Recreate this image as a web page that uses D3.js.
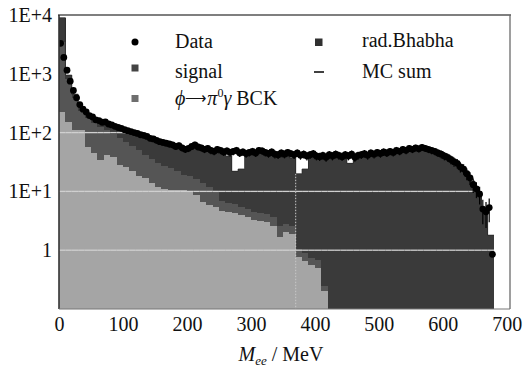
<!DOCTYPE html>
<html><head><meta charset="utf-8">
<script src="https://cdn.jsdelivr.net/npm/d3@7"></script>
<style>
body{margin:0;background:#fff}
svg{display:block}
text{font-family:"Liberation Serif","Times New Roman",Times,serif;fill:#111}
</style>
</head><body>
<svg id="c" width="528" height="370"></svg>
<script>
// ---- data ----
const histBinWidth = 10;   // MeV, MC histograms start at 0
const dataBinWidth = 5;    // MeV, data points start at 0

const bckValues = [220,150,110,110,56,45,34,41,38,28,
  26,22,18,17,14,12,11,10.7,10.5,10.5,
  10,8.7,6.6,5.8,5.5,4.7,4.5,4.3,3.9,3.7,
  3.2,3.1,3.0,2.6,1.7,2.0,1.9,0.76,0.65,0.55,
  0.5,0.2,0,0,0,0,0,0,0,0,
  0,0,0,0,0,0,0,0,0,0,
  0,0,0,0,0,0,0,0];

const signalValues = [3280,670,280,125,124,100,91,69,57,54,
  44,38,32,25,22,18,16,14.3,11.5,8.5,
  8,7.3,7.4,6.2,4.5,2.3,1.8,1.7,1.5,1.3,
  1.3,1.2,1.1,1.0,0.9,0.8,0.7,0.29,0.25,0.2,
  0.18,0.05,0,0,0,0,0,0,0,0,
  0,0,0,0,0,0,0,0,0,0,
  0,0,0,0,0,0,0,0];

const bhabhaValues = [5500,130,60,35,25,25,25,30,33,34,
  35,38,40,42,40,40,37,35,34,31,
  34,39,36,36,35,37,33.7,16,18.6,37,
  39.5,40.7,37.9,37.4,35.4,37.2,34.4,18.95,23.1,38.25,
  34.32,36.75,36,38,36,30,38,40,40,42,
  43,44,46,48,50,52,53,51,48,44,
  40,35,28,22,15,10,5,1.8];

const dataValues = [3300,1900,1150,750,520,390,300,250,225,195,
  185,165,160,150,152,140,135,128,122,118,
  112,108,104,100,97,92,90,86,80,78,
  74,70,68,66,64,62,58,60,55,52,
  54,58,62,57,55,52,54,50,48,52,
  50,47,49,46,48,50,45,47,44,46,
  48,45,50,49,46,44,47,43,42,45,
  43,46,44,42,45,41,43,40,42,44,
  40,39,41,38,42,40,43,41,39,42,
  40,43,38,41,42,44,41,45,43,46,
  44,47,45,48,46,50,48,52,50,54,
  52,55,53,56,54,52,50,48,45,43,
  40,38,35,32,30,26,24,20,17,13,
  11,9,5,4.5,5.3,0.85];

const xTickValues = [0,100,200,300,400,500,600,700];
const yTickValues = [1,10,100,1000,10000];
const yTickLabels = ["1","1E+1","1E+2","1E+3","1E+4"];
const gridValues = [1,10,100];
const markerEnergy = 370; // MeV, dotted vertical line
const seriesKeys = ["bck","signal","bhabha"];
const seriesColors = {bck:"#a5a5a5", signal:"#555555", bhabha:"#3a3a3a"};
const FONT = '"Liberation Serif","Times New Roman",Times,serif';

// ---- scales ----
const svg = d3.select("#c");
const x = d3.scaleLinear().domain([0,705]).range([59,510]);
const y = d3.scaleLog().domain([0.1,10000]).range([309,15]);
const yc = v => y(Math.max(v, 0.1));

svg.append("defs").append("clipPath").attr("id","clip")
  .append("rect").attr("x",59).attr("y",15).attr("width",451).attr("height",294);

const rows = bckValues.map((v,i)=>({x0:i*histBinWidth, bck:v, signal:signalValues[i], bhabha:bhabhaValues[i]}));
const totals = rows.map(r=>r.bck+r.signal+r.bhabha);
const stacked = d3.stack().keys(seriesKeys)(rows);

const plot = svg.append("g").attr("clip-path","url(#clip)");

stacked.forEach(layer=>{
  plot.append("g").attr("fill",seriesColors[layer.key]).attr("shape-rendering","crispEdges")
    .selectAll("rect").data(layer.filter(d=>d[1]>d[0] && d[1]>0.1)).join("rect")
    .attr("x",d=>x(d.data.x0))
    .attr("width",d=>x(d.data.x0+histBinWidth)-x(d.data.x0)+0.3)
    .attr("y",d=>yc(d[1]))
    .attr("height",d=>yc(d[0])-yc(d[1]));
});

// grid lines inside the filled area
gridValues.forEach(g=>{
  plot.append("g").attr("stroke","#d0d0d0").attr("stroke-width",1.3)
    .selectAll("line").data(rows.filter((r,i)=>totals[i]>=g)).join("line")
    .attr("x1",d=>x(d.x0)).attr("x2",d=>x(d.x0+histBinWidth))
    .attr("y1",y(g)).attr("y2",y(g));
});

// dotted line
const mi = Math.floor(markerEnergy/histBinWidth);
plot.append("line").attr("x1",x(markerEnergy)).attr("x2",x(markerEnergy))
  .attr("y1",yc(totals[mi])).attr("y2",309)
  .attr("stroke","#c8c8c8").attr("stroke-width",1).attr("stroke-dasharray","1.5,1.5");

// MC sum step line
const stepPts = rows.map((r,i)=>[r.x0,totals[i]]);
stepPts.push([rows.length*histBinWidth, totals[totals.length-1]]);
plot.append("path").datum(stepPts)
  .attr("d",d3.line().x(d=>x(d[0])).y(d=>yc(d[1])).curve(d3.curveStepAfter))
  .attr("fill","none").attr("stroke","#2a2a2a").attr("stroke-width",0.8);

// data points
const pts = dataValues.map((v,i)=>({e:(i+0.5)*dataBinWidth, v:v}));
plot.append("g").attr("stroke","#000").attr("stroke-width",1.2)
  .selectAll("line").data(pts.filter(d=>d.v-Math.sqrt(d.v)>0)).join("line")
  .attr("x1",d=>x(d.e)).attr("x2",d=>x(d.e))
  .attr("y1",d=>yc(d.v+Math.sqrt(d.v))).attr("y2",d=>yc(d.v-Math.sqrt(d.v)));
plot.append("g").attr("fill","#000")
  .selectAll("circle").data(pts).join("circle")
  .attr("cx",d=>x(d.e)).attr("cy",d=>yc(d.v)).attr("r",3.4);

// frame
svg.append("line").attr("x1",58).attr("x2",511).attr("y1",15).attr("y2",15).attr("stroke","#555").attr("stroke-width",1.6);
svg.append("line").attr("x1",59).attr("x2",59).attr("y1",15).attr("y2",309).attr("stroke","#333").attr("stroke-width",1.6);
svg.append("line").attr("x1",510).attr("x2",510).attr("y1",15).attr("y2",309).attr("stroke","#6a6a6a").attr("stroke-width",1.3);
svg.append("line").attr("x1",59).attr("x2",510).attr("y1",309).attr("y2",309).attr("stroke","#777").attr("stroke-width",1);

// axes
const xAxis = svg.append("g").attr("transform","translate(0,309)")
  .call(d3.axisBottom(x).tickValues(xTickValues).tickSize(0).tickPadding(8).tickFormat(d3.format("d")));
xAxis.attr("font-family",FONT);
xAxis.select(".domain").remove();
xAxis.selectAll("text").style("font-size","20px").style("font-family",FONT).attr("fill","#111");

const yAxis = svg.append("g").attr("transform","translate(59,0)")
  .call(d3.axisLeft(y).tickValues(yTickValues).tickSize(0).tickPadding(7)
    .tickFormat((d,i)=>yTickLabels[i]));
yAxis.attr("font-family",FONT);
yAxis.select(".domain").remove();
yAxis.selectAll("text").style("font-size","20px").style("font-family",FONT).attr("fill","#111");

// axis title
const t = svg.append("text").attr("x",281).attr("y",361).attr("text-anchor","middle").style("font-size","20px");
t.append("tspan").attr("font-style","italic").text("M");
t.append("tspan").attr("font-style","italic").style("font-size","13px").attr("dy",4).text("ee");
t.append("tspan").attr("dy",-4).text(" / MeV");

// legend
const leg = svg.append("g");
leg.append("circle").attr("cx",135).attr("cy",42).attr("r",3.5).attr("fill","#000");
leg.append("rect").attr("x",131.5).attr("y",64.5).attr("width",7).attr("height",7).attr("fill","#444");
leg.append("rect").attr("x",131.5).attr("y",95).attr("width",7).attr("height",7).attr("fill","#6e6e6e");
leg.append("rect").attr("x",315).attr("y",38.5).attr("width",7.5).attr("height",7.5).attr("fill","#303030");
leg.append("line").attr("x1",314).attr("x2",324).attr("y1",72).attr("y2",72).attr("stroke","#111").attr("stroke-width",1.6);
leg.append("text").attr("x",175).attr("y",47.5).style("font-size","20px").text("Data");
leg.append("text").attr("x",175).attr("y",77.5).style("font-size","20px").text("signal");
const bt = leg.append("text").attr("x",175).attr("y",105).style("font-size","20px");
bt.append("tspan").attr("font-style","italic").text("ϕ");
bt.append("tspan").style("font-size","15px").attr("dy",-2).text("⟶");
bt.append("tspan").attr("font-style","italic").attr("dy",2).text("π");
bt.append("tspan").style("font-size","12px").attr("dy",-8).text("0");
bt.append("tspan").attr("font-style","italic").attr("dy",8).text("γ");
bt.append("tspan").text(" BCK");
leg.append("text").attr("x",362).attr("y",47).style("font-size","20px").text("rad.Bhabha");
leg.append("text").attr("x",362).attr("y",78).style("font-size","20px").text("MC sum");
</script>
</body></html>
